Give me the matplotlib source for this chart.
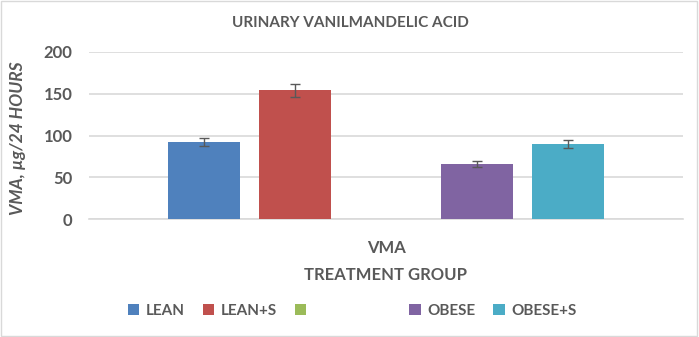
import matplotlib
matplotlib.use("Agg")
import matplotlib.pyplot as plt
from matplotlib.patches import Rectangle, Patch

groups = ["LEAN", "LEAN+S", "", "OBESE", "OBESE+S"]
legend_labels = ["LEAN", "LEAN+S", " " * 21, "OBESE", "OBESE+S"]
values = [92, 154, 0, 66, 90]
errors = [5, 8, 0, 4, 5]
colors = ["#4F81BD", "#C0504D", "#9BBB59", "#8064A2", "#4BACC6"]
category = ["VMA"]
yticks = [0, 50, 100, 150, 200]

plt.rcParams['font.family'] = ['Lato', 'DejaVu Sans']
txt = "#595959"

fig = plt.figure(figsize=(6.99, 3.37), dpi=100)
ax = fig.add_axes([89/699, 1-219/337, (683-89)/699, (219-52)/337])

spacing = 91
width = 72
n = len(values)
handles = []
for i, (v, e, c, lab) in enumerate(zip(values, errors, colors, legend_labels)):
    x = (i - (n-1)/2) * spacing
    if v > 0:
        ax.bar(x, v, width=width, color=c, zorder=3)
        ax.errorbar(x, v, yerr=e, color=txt, capsize=3.5, elinewidth=1, capthick=1, zorder=4)
    handles.append(Patch(facecolor=c, label=lab))

ax.set_xlim(-297, 297)
ax.set_ylim(0, 200)
ax.set_yticks(yticks)
ax.set_yticklabels([str(t) for t in yticks], fontsize=12, fontweight='bold', color=txt)
ax.set_xticks([0])
ax.set_xticklabels(category, fontsize=12, fontweight='bold', color=txt)
ax.tick_params(axis='both', length=0, pad=12)
ax.tick_params(axis='x', pad=15)
ax.grid(axis='y', color='#D9D9D9', linewidth=1.2, zorder=0)
for s in ['top', 'right', 'left']:
    ax.spines[s].set_visible(False)
ax.spines['bottom'].set_color('#D9D9D9')
ax.spines['bottom'].set_linewidth(1.2)

fig.text(350/699, 1-23/337, "URINARY VANILMANDELIC ACID", ha='center', va='center',
         fontsize=11, fontweight='bold', color=txt)
fig.text(18/699, 1-138/337, "VMA, µg/24 HOURS", ha='center', va='center', rotation=90,
         fontsize=12.5, fontweight='bold', style='italic', color=txt)
fig.text(386/699, 1-275/337, "TREATMENT GROUP", ha='center', va='center',
         fontsize=12, fontweight='bold', color=txt)

leg = fig.legend(handles=handles, loc='center', bbox_to_anchor=(352/699, 1-311/337),
                 ncol=5, frameon=False, fontsize=11, handlelength=0.75, handleheight=0.75,
                 handletextpad=0.4, columnspacing=1.2)
for t in leg.get_texts():
    t.set_color(txt)
    t.set_fontweight('bold')

fig.patches.append(Rectangle((0.002, 0.003), 0.995, 0.994, transform=fig.transFigure,
                             fill=False, edgecolor='#D9D9D9', linewidth=1))

fig.savefig("out.png", dpi=100)
